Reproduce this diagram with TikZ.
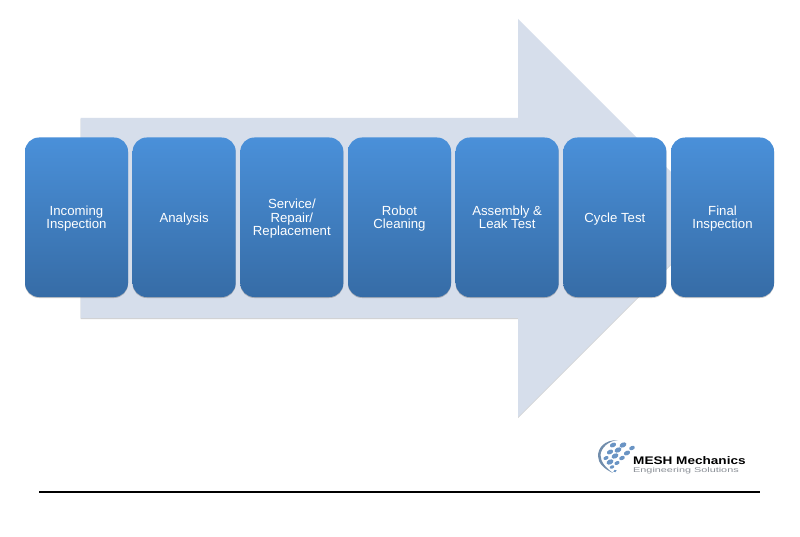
\documentclass[tikz,border=0pt]{standalone}
\usepackage{fontspec}
\setmainfont{Liberation Sans}
\newfontfamily\brandfont[FakeStretch=1.235]{Liberation Sans}
\newfontfamily\taglinefont[FakeStretch=1.55]{Liberation Sans}
\usepackage{xcolor}
\usetikzlibrary{positioning,shadows}
\definecolor{arrowfill}{HTML}{D6DEEB}
\definecolor{boxtop}{HTML}{4A90D9}
\definecolor{boxbot}{HTML}{366CA6}
\definecolor{logoblue}{HTML}{6A94C4}
\definecolor{logogray}{HTML}{8A8F96}

\begin{document}
\begin{tikzpicture}[x=1pt,y=-1pt,
  stage/.style={rounded corners=14pt, minimum width=103pt, minimum height=159.5pt,
                inner sep=0pt, outer sep=0pt, text depth=0pt,
                top color=boxtop, bottom color=boxbot, text=white,
                align=center, font=\fontsize{13.2}{13.2}\selectfont,
                general shadow={shadow xshift=0pt, shadow yshift=-1pt, fill=black, opacity=.22}},
  dot/.style={fill=logoblue}
]
\useasboundingbox (0,0) rectangle (800,537);
\fill[white] (0,0) rectangle (800,537);

% big arrow behind the stages
\fill[arrowfill, general shadow={shadow xshift=0pt, shadow yshift=-1pt, fill=black, opacity=.18}]
  (80.5,118) -- (518,118) -- (518,19) -- (717,218) -- (518,417) -- (518,318) -- (80.5,318) -- cycle;

\node[stage] at (76.5,217.25) (incoming) {Incoming\\Inspection};
\node[stage, right=4.67pt of incoming] (analysis) {Analysis};
\node[stage, right=4.67pt of analysis] (service) {Service/\\Repair/\\Replacement};
\node[stage, right=4.67pt of service]  (cleaning) {Robot\\Cleaning};
\node[stage, right=4.67pt of cleaning] (assembly) {Assembly \&\\Leak Test};
\node[stage, right=4.67pt of assembly] (cycle) {Cycle Test};
\node[stage, right=4.67pt of cycle]    (final) {Final\\Inspection};

% logo
\fill[logoblue!65!gray] (618,440) .. controls (604,440) and (598,448) .. (598,456)
  .. controls (598,463) and (604,469) .. (613,473)
  .. controls (606,468) and (600.5,462) .. (600.5,455)
  .. controls (601,448) and (608,441) .. (618,440) -- cycle;
\foreach \x/\y/\r in {613/445/2.2,623/445/2.4,632/448/2,610/452/2.2,618/450/2.4,627/453/2.2,
                      606/458/1.8,615/456/2.4,622/458/2,610/462/2.4,617/463/1.8,612/467/1.6,615/471/1.2}
  \fill[dot, shift={(\x,\y)}, rotate=25] (0,0) ellipse[x radius=1.5*\r, y radius=1.0*\r];
\node[anchor=base west, inner sep=0pt, font=\brandfont\bfseries\fontsize{11}{11}\selectfont] (brand) at (633,464.3) {MESH Mechanics};
\node[anchor=base west, inner sep=0pt, text=logogray, font=\taglinefont\fontsize{7}{7}\selectfont] (tagline) at (633,472.3) {Engineering Solutions};

% footer rule
\coordinate (ruleL) at (39,491.5);
\coordinate (ruleR) at (760,491.5);
\draw[line width=2pt] (ruleL) -- (ruleR);
\end{tikzpicture}
\end{document}
